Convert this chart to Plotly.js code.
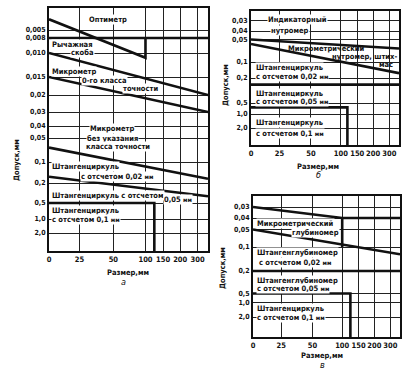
<!DOCTYPE html>
<html><head><meta charset="utf-8">
<script src="https://cdn.plot.ly/plotly-3.0.1.min.js"></script>
<style>html,body{margin:0;padding:0;background:#fff}#chart{width:408px;height:372px}</style>
</head><body><div id="chart"></div><script>
// ---------- DATA ----------
const sizeTicks = [0, 25, 50, 100, 150, 200, 300];
const sizeTickText = ['0', '25', '50', '100', '150', '200', '300'];
const sizeMax = 360;          // right border of each panel, mm
const tolFloor = 10;          // value below the bottom border (boxes run to the bottom)

const tolTicksA = [0.005, 0.008, 0.010, 0.015, 0.02, 0.03, 0.04, 0.05, 0.1, 0.2, 0.5, 1.0, 2.0];
const tolTextA = ['0,005', '0,008', '0,010', '0,015', '0,02', '0,03', '0,04', '0,05', '0,1', '0,2', '0,5', '1,0', '2,0'];
const tolTicksBC = [0.03, 0.04, 0.05, 0.1, 0.2, 0.5, 1.0, 2.0];
const tolTextBC = ['0,03', '0,04', '0,05', '0,1', '0,2', '0,5', '1,0', '2,0'];

// panel а boundaries (size mm, tolerance mm)
const aOptimeterX = [0, 360], aOptimeterY = [0.008, 0.008];
const aLeverX = [0, 100, 100], aLeverY = [0.001, 0.011, 0.008];
const aMic0UpperX = [0, 360], aMic0UpperY = [0.010, 0.02];
const aMic0LowerX = [0, 360], aMic0LowerY = [0.015, 0.03];
const aMicLowerX = [0, 360], aMicLowerY = [0.07, 0.18];
const aCal002LowerX = [0, 360], aCal002LowerY = [0.17, 0.4];
const aCal01BoxX = [0, 125, 125], aCal01BoxY = [0.5, 0.5, tolFloor];

// panel б boundaries
const bIndicatorX = [0, 360], bIndicatorY = [0.05, 0.07];
const bMicInnerX = [0, 360], bMicInnerY = [0.06, 0.17];
const bCal002X = [0, 360], bCal002Y = [0.28, 0.28];
const bCal01BoxX = [0, 120, 120], bCal01BoxY = [0.7, 0.7, tolFloor];

// panel в boundaries
const cDepthMicUpperX = [0, 100, 360], cDepthMicUpperY = [0.03, 0.04, 0.04];
const cDepthMicRightX = [100, 100], cDepthMicRightY = [0.04, 0.1];
const cDepthLowerX = [0, 360], cDepthLowerY = [0.05, 0.13];
const cCal002X = [0, 360], cCal002Y = [0.2, 0.2];
const cCal01BoxX = [0, 125, 125], cCal01BoxY = [0.5, 0.5, tolFloor];

// ---------- SCALES (layout) ----------
const W = 408, H = 372;
const xScaleU = [0, 0.95, 2, 3, 3.55, 4.08, 4.62];
function interp(v, xs, ys) {
  let i = 0;
  if (v <= xs[0]) i = 0;
  else if (v >= xs[xs.length - 1]) i = xs.length - 2;
  else { while (v > xs[i + 1]) i++; }
  const t = (v - xs[i]) / (xs[i + 1] - xs[i]);
  return ys[i] + t * (ys[i + 1] - ys[i]);
}
const ux = v => interp(v, sizeTicks, xScaleU);

const panels = {
  a: { x0: 49, x1: 208, top: 8, bottom: 251, ticks: tolTicksA, text: tolTextA,
       px: [30, 38, 53, 77, 95, 112, 126, 138, 162, 183, 203, 219, 233] },
  b: { x0: 251, x1: 399, top: 11, bottom: 145, ticks: tolTicksBC, text: tolTextBC,
       px: [20.5, 31, 39.5, 62, 78, 103, 114, 128] },
  c: { x0: 253, x1: 400, top: 196, bottom: 337, ticks: tolTicksBC, text: tolTextBC,
       px: [207, 218, 229.5, 247, 271, 293.5, 302.5, 317] }
};
function uy(p, v) { return interp(v, p.ticks, p.px.map(q => p.bottom - q)); }

const FONT = 'DejaVu Sans Condensed, Liberation Sans Narrow, Arial Narrow, sans-serif';
const INK = '#111';

const traces = [];
function seg(key, axisIdx, xs, ys, w) {
  const p = panels[key];
  traces.push({
    type: 'scatter', mode: 'lines',
    x: xs.map(ux), y: ys.map(v => uy(p, v)),
    xaxis: 'x' + (axisIdx === 1 ? '' : axisIdx), yaxis: 'y' + (axisIdx === 1 ? '' : axisIdx),
    line: { color: INK, width: w || 2.6 }, hoverinfo: 'skip', showlegend: false
  });
}
seg('a', 1, aOptimeterX, aOptimeterY);
seg('a', 1, aLeverX, aLeverY);
seg('a', 1, aMic0UpperX, aMic0UpperY);
seg('a', 1, aMic0LowerX, aMic0LowerY);
seg('a', 1, aMicLowerX, aMicLowerY);
seg('a', 1, aCal002LowerX, aCal002LowerY);
seg('a', 1, aCal01BoxX, aCal01BoxY);
seg('b', 2, bIndicatorX, bIndicatorY);
seg('b', 2, bMicInnerX, bMicInnerY);
seg('b', 2, bCal002X, bCal002Y);
seg('b', 2, bCal01BoxX, bCal01BoxY);
seg('c', 3, cDepthMicUpperX, cDepthMicUpperY);
seg('c', 3, cDepthMicRightX, cDepthMicRightY);
seg('c', 3, cDepthLowerX, cDepthLowerY);
seg('c', 3, cCal002X, cCal002Y);
seg('c', 3, cCal01BoxX, cCal01BoxY);

function xAxis(p) {
  return {
    domain: [p.x0 / W, p.x1 / W], range: [0, ux(sizeMax)],
    tickmode: 'array', tickvals: sizeTicks.map(ux), ticktext: sizeTickText, tickangle: 0,
    showgrid: true, gridcolor: '#222', gridwidth: 1, zeroline: false,
    showline: true, mirror: true, linecolor: INK, linewidth: 2, ticks: '',
    tickfont: { family: FONT, size: 7.5, color: INK, weight: 'bold' }, fixedrange: true
  };
}
function yAxis(p) {
  return {
    domain: [1 - p.bottom / H, 1 - p.top / H], range: [0, p.bottom - p.top],
    tickmode: 'array', tickvals: p.ticks.map(v => uy(p, v)), ticktext: p.text, tickangle: 0,
    showgrid: true, gridcolor: '#222', gridwidth: 1, zeroline: false,
    showline: true, mirror: true, linecolor: INK, linewidth: 2, ticks: '',
    tickfont: { family: FONT, size: 7, color: INK, weight: 'bold' }, fixedrange: true
  };
}

const anns = [];
function lab(text, x, y, anchor, opts) {
  anns.push(Object.assign({
    text: text, xref: 'paper', yref: 'paper', x: x / W, y: 1 - y / H,
    xanchor: anchor || 'center', yanchor: 'middle', showarrow: false,
    font: { family: FONT, size: 7.5, color: INK, weight: 'bold' },
    bgcolor: 'rgba(255,255,255,1)', borderpad: 0
  }, opts || {}));
}
const clear = { bgcolor: 'rgba(0,0,0,0)' };
const mm = ' <span style="font-size:6px">мм</span>';
// panel а
lab('Оптиметр', 108, 20);
lab('Рычажная', 51, 44, 'left');
lab('скоба', 82, 53);
lab('Микрометр', 51, 71, 'left');
lab('0-го класса', 104, 80);
lab('точности', 140, 88);
lab('Микрометр', 112, 128);
lab('без указания', 112, 138);
lab('класса точности', 118, 146);
lab('Штангенциркуль', 51, 166, 'left');
lab('с отсчетом 0,02' + mm, 117, 176);
lab('Штангенциркуль с отсчетом', 51, 195, 'left');
lab('0,05' + mm, 178, 199);
lab('Штангенциркуль', 51, 210, 'left');
lab('с отсчетом 0,1' + mm, 51, 219, 'left');
// panel б
lab('Индикаторный', 297, 20);
lab('нутромер', 290, 30);
lab('Микрометрический', 326, 48, 'center', clear);
lab('нутромер, штих-', 364, 56.5, 'center', clear);
lab('мас', 394, 64.5, 'right', clear);
lab('Штангенциркуль', 255, 67, 'left');
lab('с отсчетом 0,02' + mm, 255, 76, 'left');
lab('Штангенциркуль', 255, 93, 'left');
lab('с отсчетом 0,05' + mm, 255, 101, 'left');
lab('Штангенциркуль', 255, 123, 'left');
lab('с отсчетом 0,1' + mm, 255, 133, 'left');
// panel в
lab('Микрометрический', 295, 223);
lab('глубиномер', 315, 232);
lab('Штангенглубиномер', 256, 253, 'left');
lab('с отсчетом 0,02' + mm, 258, 262, 'left');
lab('Штангенглубиномер', 256, 280, 'left');
lab('с отсчетом 0,05' + mm, 256, 288, 'left');
lab('Штангенциркуль', 256, 308, 'left');
lab('с отсчетом 0,1' + mm, 256, 317, 'left');
// axis titles
const tf = { family: FONT, size: 7.5, color: INK, weight: 'bold' };
const sub = { family: FONT, size: 9, color: INK, style: 'italic' };
lab('Размер,мм', 128, 272, 'center', { font: tf, bgcolor: 'rgba(0,0,0,0)' });
lab('а', 124, 282, 'center', { font: sub, bgcolor: 'rgba(0,0,0,0)' });
lab('Размер,мм', 318, 166, 'center', { font: tf, bgcolor: 'rgba(0,0,0,0)' });
lab('б', 318, 175, 'center', { font: sub, bgcolor: 'rgba(0,0,0,0)' });
lab('Размер,мм', 322, 355, 'center', { font: tf, bgcolor: 'rgba(0,0,0,0)' });
lab('в', 322, 365, 'center', { font: sub, bgcolor: 'rgba(0,0,0,0)' });
lab('Допуск,мм', 16, 160, 'center', { font: tf, textangle: -90, bgcolor: 'rgba(0,0,0,0)' });
lab('Допуск,мм', 225, 85, 'center', { font: tf, textangle: -90, bgcolor: 'rgba(0,0,0,0)' });
lab('Допуск,мм', 222, 268, 'center', { font: tf, textangle: -90, bgcolor: 'rgba(0,0,0,0)' });

const layout = {
  width: W, height: H, margin: { l: 0, r: 0, t: 0, b: 0 },
  paper_bgcolor: '#fff', plot_bgcolor: '#fff', showlegend: false,
  xaxis: Object.assign(xAxis(panels.a), { anchor: 'y' }),
  yaxis: Object.assign(yAxis(panels.a), { anchor: 'x' }),
  xaxis2: Object.assign(xAxis(panels.b), { anchor: 'y2' }),
  yaxis2: Object.assign(yAxis(panels.b), { anchor: 'x2' }),
  xaxis3: Object.assign(xAxis(panels.c), { anchor: 'y3' }),
  yaxis3: Object.assign(yAxis(panels.c), { anchor: 'x3' }),
  annotations: anns
};
Plotly.newPlot('chart', traces, layout, { displayModeBar: false, staticPlot: true });
</script></body></html>
